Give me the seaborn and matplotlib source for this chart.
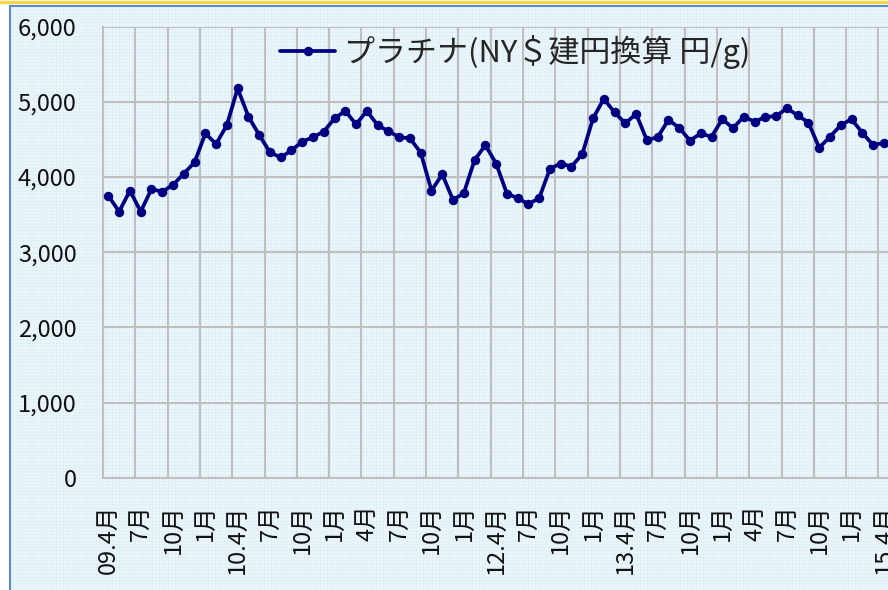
import numpy as np
import pandas as pd
import matplotlib
matplotlib.use('Agg')
import matplotlib.pyplot as plt
import seaborn as sns

# プラチナ価格 (NY$建円換算 円/g) 2009年4月～2015年4月 月次
values = [3750, 3540, 3820, 3540, 3840, 3805, 3895, 4045, 4195, 4580,
          4440, 4690, 5180, 4805, 4560, 4330, 4260, 4355, 4470, 4530,
          4605, 4780, 4880, 4700, 4880, 4690, 4610, 4530, 4515, 4325,
          3820, 4035, 3695, 3785, 4225, 4425, 4180, 3780, 3720, 3640,
          3720, 4110, 4180, 4140, 4305, 4780, 5040, 4860, 4715, 4840,
          4490, 4530, 4760, 4655, 4485, 4580, 4535, 4770, 4650, 4805,
          4735, 4800, 4810, 4915, 4820, 4725, 4390, 4535, 4690, 4770,
          4590, 4425, 4455]
tick_labels = ['09.4月', '7月', '10月', '1月', '10.4月', '7月', '10月', '1月',
               '4月', '7月', '10月', '1月', '12.4月', '7月', '10月', '1月',
               '13.4月', '7月', '10月', '1月', '4月', '7月', '10月', '1月',
               '15.4月']
series_name = 'プラチナ(NY＄建円換算 円/g)'

df = pd.DataFrame({'idx': np.arange(len(values)), 'price': values})

sns.set_style('white')
plt.rcParams['font.family'] = ['Noto Sans CJK JP', 'DejaVu Sans']

W, H = 888, 590
fig = plt.figure(figsize=(W / 100, H / 100), dpi=100, facecolor='white')

# 背景(グラフエリア)
bg = fig.add_axes([10 / W, 0, 1 - 10 / W, (H - 6) / H], zorder=-5)
bg.set_facecolor('#ebf6fb')
bg.set_xlim(0, W - 10)
bg.set_ylim(0, H - 6)
for xx in np.arange(0, W, 3.3):
    bg.axvline(xx, color='#dbedf5', lw=0.4)
for yy in np.arange(0, H, 3.3):
    bg.axhline(yy, color='#dbedf5', lw=0.4)
bg.set_xticks([])
bg.set_yticks([])
for s in ['right', 'bottom']:
    bg.spines[s].set_visible(False)
for s in ['left', 'top']:
    bg.spines[s].set_color('#5b8bd0')
    bg.spines[s].set_linewidth(1.5)

fig.add_artist(plt.Line2D([0, 1], [1 - 1.5 / H, 1 - 1.5 / H], color='#f5d64a', lw=2.5,
                          transform=fig.transFigure))

ax = fig.add_axes([103 / W, 112.3 / H, 1 - 103 / W, 451 / H])
ax.set_facecolor('none')

sns.lineplot(data=df, x='idx', y='price', ax=ax, color='#000080', lw=2.7,
             marker='o', markersize=6.8, markeredgewidth=0, label=series_name, zorder=5)

ax.set_xlim(-0.5, (W - 103) / 10.77 - 0.5)
ax.set_ylim(0, 6000)

grid_c = '#bfbfbf'
ax.set_xticks(np.arange(-0.5, len(values), 3))
ax.set_xticklabels([])
ax.set_xticks(np.arange(0, len(values), 3), minor=True)
ax.set_xticklabels(tick_labels, minor=True, rotation=90, fontsize=17)
ax.set_yticks(np.arange(0, 6001, 1000))
ax.set_yticklabels([f'{v:,}' for v in range(0, 6001, 1000)], fontsize=17)

ax.tick_params(axis='x', which='major', direction='out', length=6, width=1.5, color=grid_c)
ax.tick_params(axis='x', which='minor', length=0, pad=19, colors='#111111')
ax.tick_params(axis='y', which='major', direction='out', length=7, width=1.5,
               pad=12, colors='#111111')
ax.tick_params(axis='y', which='major', color=grid_c)
ax.grid(True, which='major', color=grid_c, lw=1.5)
ax.set_axisbelow(True)

for s in ['top', 'right']:
    ax.spines[s].set_visible(False)
for s in ['left', 'bottom']:
    ax.spines[s].set_color(grid_c)
    ax.spines[s].set_linewidth(1.5)

ax.set_xlabel('')
ax.set_ylabel('')

leg = ax.legend(loc='center left', bbox_to_anchor=(280 / W, 1 - 52 / H),
                bbox_transform=fig.transFigure, frameon=False, fontsize=22.3,
                handlelength=1.78, handletextpad=0.3, borderpad=0, borderaxespad=0)

fig.savefig('out.png', dpi=100)
